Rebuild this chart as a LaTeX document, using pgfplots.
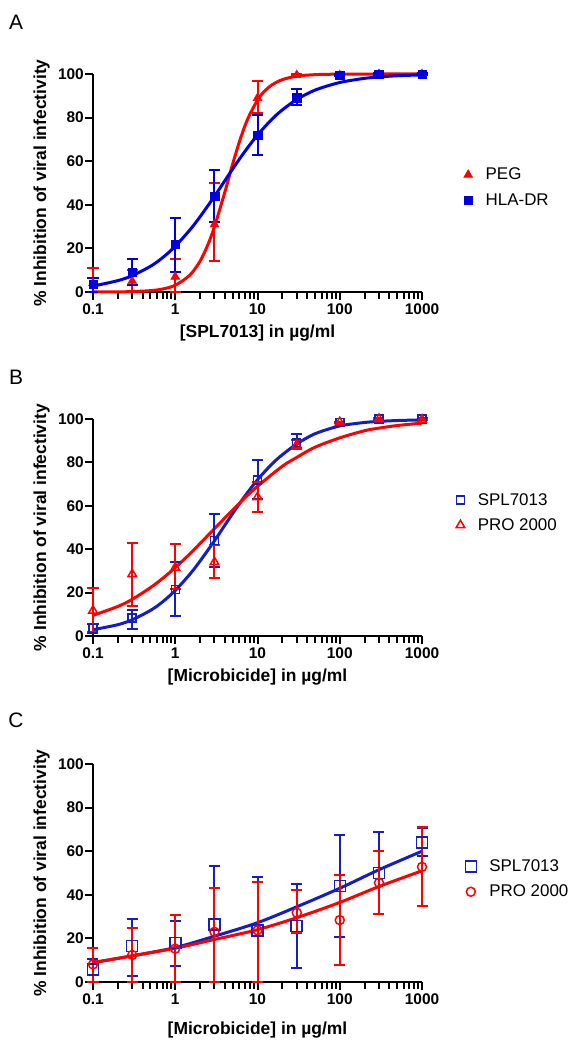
\documentclass[border=0pt]{standalone}
\usepackage{fontspec}
\setmainfont{Liberation Sans}
\usepackage{pgfplots}
\pgfplotsset{compat=1.18}
\definecolor{myred}{RGB}{255,0,0}
\definecolor{blueA}{RGB}{0,0,225}
\definecolor{blueB}{RGB}{20,30,195}
\pgfplotsset{
  every axis/.append style={
    xmode=log, scale only axis, width=329bp, height=218bp,
    xmin=0.1, xmax=1000, ymin=0, ymax=100,
    axis lines=left, axis line style={-, line width=2.6bp, black},
    xtick={0.1,1,10,100,1000}, xticklabels={0.1,1,10,100,1000},
    xminorticks=false,
    extra x ticks={0.2,0.3,0.4,0.5,0.6,0.7,0.8,0.9,2,3,4,5,6,7,8,9,20,30,40,50,60,70,80,90,200,300,400,500,600,700,800,900},
    extra x tick labels={},
    extra x tick style={major tick length=6.5bp, tick style={black, line width=1.8bp}},
    ytick={0,20,40,60,80,100}, yticklabels={0,20,40,60,80,100},
    tick align=outside, major tick length=8bp,
    major tick style={black, line width=2bp},
    clip=false,
    tick label style={font=\bfseries\fontsize{15.5}{16}\selectfont},
    yticklabel style={inner xsep=1bp},
    label style={font=\bfseries\fontsize{17.5}{19}\selectfont},
    ylabel={\% Inhibition of viral infectivity},
    legend cell align=left,
    legend style={draw=none, fill=none, anchor=west, font=\fontsize{17}{19}\selectfont, row sep=8bp, column sep=11bp},
  },
  error bars/y dir=both, error bars/y explicit,
  error bars/error bar style={line width=2bp},
  error bars/error mark options={rotate=90, mark size=5.5bp, line width=2bp},
}
\begin{document}
\begin{tikzpicture}
\path[use as bounding box] (0,0) rectangle (579bp,-1050bp);
\node[font=\fontsize{21}{21}\selectfont] at (16bp,-22bp) {A};
\node[font=\fontsize{21}{21}\selectfont] at (16bp,-377bp) {B};
\node[font=\fontsize{21}{21}\selectfont] at (16bp,-720bp) {C};

% ---------------- Panel A
\begin{axis}[at={(93bp,-292bp)}, anchor=south west,
  xlabel={[SPL7013] in µg/ml},
  xlabel style={at={(axis description cs:0.5,-0.188)}, anchor=center},
  ylabel style={at={(axis description cs:-0.156,0.5)}, anchor=center},
  legend style={at={(1.117,0.48)}}]
\addplot[no marks, line width=3bp, smooth, forget plot, color=myred] coordinates {
(0.1,0.01)(0.2,0.07)(0.3,0.19)(0.5,0.62)(0.7,1.36)(1,3.1)(1.5,7.7)(2,14.1)(2.5,21.8)(3,30.0)
(4,45.7)(5,58.8)(6,68.7)(7,76.0)(8,81.2)(10,88.0)(12,91.9)(15,95.0)(20,97.4)(30,99.0)(50,99.7)(100,99.94)(300,100)(1000,100)};
\addplot[no marks, line width=3bp, smooth, forget plot, color=blueA] coordinates {
(0.1,2.7)(0.2,5.2)(0.3,7.5)(0.5,11.8)(0.7,15.7)(1,21.0)(1.5,28.4)(2,34.5)(3,43.9)(4,51.0)(5,56.5)
(7,64.4)(10,72.0)(15,79.3)(20,83.5)(30,88.3)(50,92.6)(100,96.1)(200,98.0)(300,98.65)(500,99.2)(1000,99.6)};
\addplot[only marks, color=myred, mark=triangle*, mark size=5.2bp] coordinates {
(0.1,4.1) += (0,6.9) -= (0,4.1)
(0.3,5) += (0,5) -= (0,5)
(1,7) += (0,8) -= (0,7)
(3,31) += (0,19) -= (0,17)
(10,89) += (0,8) -= (0,7)
(30,99.5) += (0,0.3) -= (0,0.3)
(100,99.5) += (0,0.3) -= (0,0.3)
(300,100) += (0,0.3) -= (0,0.3)
(1000,100) += (0,0.3) -= (0,0.3)};
\addlegendentry{PEG}
\addplot[only marks, color=blueA, mark=square*, mark size=4.3bp] coordinates {
(0.1,3.5) += (0,2.7) -= (0,3.5)
(0.3,9) += (0,6) -= (0,6)
(1,22) += (0,12) -= (0,13)
(3,44) += (0,12) -= (0,12)
(10,72) += (0,9) -= (0,9)
(30,89) += (0,4) -= (0,3)
(100,99.5) += (0,0.3) -= (0,0.3)
(300,100) += (0,0.3) -= (0,0.3)
(1000,100) += (0,0.3) -= (0,0.3)};
\addlegendentry{HLA-DR}
\end{axis}

% ---------------- Panel B
\begin{axis}[at={(93bp,-636bp)}, anchor=south west, height=217bp,
  xlabel={[Microbicide] in µg/ml},
  xlabel style={at={(axis description cs:0.5,-0.188)}, anchor=center},
  ylabel style={at={(axis description cs:-0.156,0.5)}, anchor=center},
  legend style={at={(1.094,0.569)}}]
\addplot[no marks, line width=3bp, smooth, forget plot, color=blueB] coordinates {
(0.1,2.9)(0.2,5.2)(0.3,7.5)(0.5,11.8)(0.7,15.7)(1,21.0)(1.5,28.4)(2,34.5)(3,43.9)(4,51.0)(5,56.5)
(7,64.4)(10,72.0)(15,79.3)(20,83.5)(30,88.5)(50,93.2)(100,96.8)(200,98.4)(300,98.9)(500,99.3)(1000,99.6)};
\addplot[no marks, line width=3bp, smooth, forget plot, color=myred] coordinates {
(0.1,9.5)(0.2,13.6)(0.3,16.9)(0.5,22.3)(0.7,26.5)(1,31.5)(1.5,37.8)(2,42.6)(3,49.5)(5,58.1)(7,63.6)
(10,69.0)(20,78.2)(30,82.3)(50,87.0)(100,91.3)(200,94.6)(300,95.8)(500,97.0)(1000,98.1)};
\addplot[only marks, color=blueB, mark=square, mark size=4bp, mark options={line width=1.5bp}] coordinates {
(0.1,3.5) += (0,2) -= (0,2)
(0.3,8.2) += (0,4) -= (0,5)
(1,21.5) += (0,12.5) -= (0,12.5)
(3,44) += (0,12) -= (0,12)
(10,72) += (0,9) -= (0,9)
(30,89) += (0,4) -= (0,3)
(100,98.5) += (0,0.3) -= (0,0.3)
(300,100) += (0,0.3) -= (0,0.3)
(1000,100) += (0,0.3) -= (0,0.3)};
\addlegendentry{SPL7013}
\addplot[only marks, color=myred, mark=triangle, mark size=5bp, mark options={line width=1.5bp}] coordinates {
(0.1,11.7) += (0,10.3) -= (0,10)
(0.3,28.5) += (0,14.5) -= (0,14.5)
(1,31.5) += (0,11) -= (0,10)
(3,34) += (0,8) -= (0,7.4)
(10,64) += (0,7) -= (0,7)
(30,88) += (0,2.5) -= (0,2)
(100,98.5) += (0,0.3) -= (0,0.3)
(300,100) += (0,0.3) -= (0,0.3)
(1000,99.7) += (0,0.3) -= (0,0.3)};
\addlegendentry{PRO 2000}
\end{axis}

% ---------------- Panel C
\begin{axis}[at={(93bp,-982bp)}, anchor=south west,
  xlabel={[Microbicide] in µg/ml},
  xlabel style={at={(axis description cs:0.5,-0.22)}, anchor=center},
  ylabel style={at={(axis description cs:-0.156,0.5)}, anchor=center},
  legend style={at={(1.122,0.472)}}]
\addplot[no marks, line width=3bp, smooth, forget plot, color=blueB] coordinates {
(0.1,8.9)(0.3,12.0)(1,15.8)(3,21.0)(10,27.2)(30,34.5)(100,43.0)(300,51.5)(1000,60.0)};
\addplot[no marks, line width=3bp, smooth, forget plot, color=myred] coordinates {
(0.1,8.9)(0.3,12.0)(1,15.5)(3,19.5)(10,24.0)(30,29.5)(100,36.5)(300,43.8)(1000,51.0)};
\addplot[only marks, color=blueB, mark=square, mark size=5.5bp, mark options={line width=1.5bp}] coordinates {
(0.1,5.8) += (0,4.6) -= (0,5.8)
(0.3,16.5) += (0,12.5) -= (0,13.8)
(1,18) += (0,10) -= (0,10.7)
(3,26.4) += (0,26.6) -= (0,26.4)
(10,23.7) += (0,24.3) -= (0,23.7)
(30,25.6) += (0,19.4) -= (0,19)
(100,44) += (0,23.6) -= (0,23.4)
(300,50) += (0,19) -= (0,19)
(1000,64) += (0,6.7) -= (0,6.3)};
\addlegendentry{SPL7013}
\addplot[only marks, color=myred, mark=o, mark size=4.5bp, mark options={line width=1.5bp}] coordinates {
(0.1,8.1) += (0,7.6) -= (0,8.1)
(0.3,12.4) += (0,12.2) -= (0,12.4)
(1,15.3) += (0,15.4) -= (0,15.3)
(3,23) += (0,20) -= (0,23)
(10,23.7) += (0,22.3) -= (0,23.7)
(30,31.8) += (0,10.2) -= (0,9.5)
(100,28.4) += (0,20.6) -= (0,20.6)
(300,45.5) += (0,14.5) -= (0,14.5)
(1000,52.8) += (0,18.2) -= (0,18)};
\addlegendentry{PRO 2000}
\end{axis}
\end{tikzpicture}
\end{document}
